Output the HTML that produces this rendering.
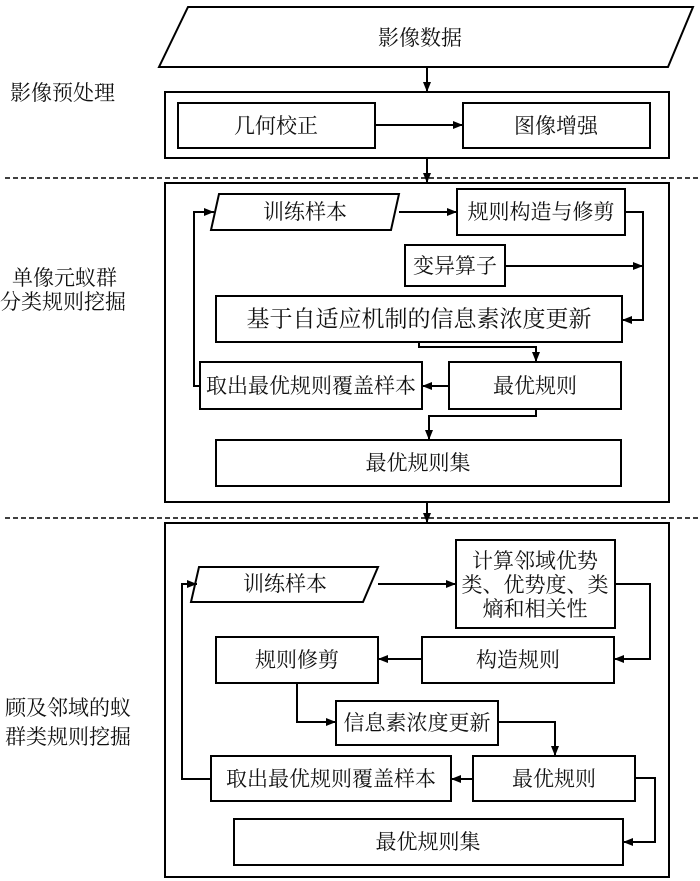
<!DOCTYPE html>
<html><head><meta charset="utf-8"><style>
html,body{margin:0;padding:0;background:#fff}
svg{display:block}
text{font-family:"Liberation Serif","Noto Serif CJK SC","Noto Sans CJK SC",serif;fill:#111;font-size:21px}
</style></head><body>
<svg width="700" height="881" viewBox="0 0 700 881" xmlns="http://www.w3.org/2000/svg">
<defs>
<marker id="a" markerWidth="10" markerHeight="8" refX="10" refY="4" orient="auto" markerUnits="userSpaceOnUse">
<path d="M0,0 L10,4 L0,8 Z" fill="#000"/></marker>
</defs>
<g fill="none" stroke="#000" stroke-width="2">
<polygon points="188,7 693,7 668,67 159,67"/>
<rect x="165" y="92" width="504" height="66"/>
<rect x="178" y="103" width="197" height="45"/>
<rect x="463" y="103" width="187" height="45"/>
<line x1="427" y1="67" x2="427" y2="92" marker-end="url(#a)"/>
<line x1="375" y1="125" x2="463" y2="125" marker-end="url(#a)"/>
<line x1="427" y1="158" x2="427" y2="183" marker-end="url(#a)"/>
<rect x="165" y="183" width="504" height="319"/>
<polygon points="219,194 399,194 391,230 211,230"/>
<rect x="457" y="189" width="168" height="46"/>
<rect x="405" y="245" width="100" height="41"/>
<rect x="216" y="296" width="406" height="46"/>
<rect x="200" y="362" width="222" height="47"/>
<rect x="449" y="362" width="172" height="47"/>
<rect x="216" y="440" width="405" height="46"/>
<line x1="399" y1="212" x2="457" y2="212" marker-end="url(#a)"/>
<polyline points="625,212 643,212 643,320 622,320" marker-end="url(#a)"/>
<line x1="505" y1="266" x2="643" y2="266" marker-end="url(#a)"/>
<polyline points="419,342 419,347 536,347 536,362" marker-end="url(#a)"/>
<line x1="449" y1="386" x2="422" y2="386" marker-end="url(#a)"/>
<polyline points="200,386 194,386 194,212 214,212" marker-end="url(#a)"/>
<polyline points="536,409 536,416 429,416 429,440" marker-end="url(#a)"/>
<line x1="427" y1="502" x2="427" y2="523" marker-end="url(#a)"/>
<rect x="165" y="523" width="504" height="354"/>
<polygon points="199,567 378,567 363,602 191,602"/>
<rect x="456" y="540" width="159" height="88"/>
<rect x="422" y="637" width="192" height="46"/>
<rect x="216" y="637" width="162" height="46"/>
<rect x="336" y="701" width="162" height="44"/>
<rect x="211" y="756" width="240" height="45"/>
<rect x="473" y="756" width="162" height="45"/>
<rect x="234" y="819" width="389" height="46"/>
<line x1="378" y1="584" x2="456" y2="584" marker-end="url(#a)"/>
<polyline points="615,584 650,584 650,659 614,659" marker-end="url(#a)"/>
<line x1="422" y1="659" x2="378" y2="659" marker-end="url(#a)"/>
<polyline points="297,683 297,722 336,722" marker-end="url(#a)"/>
<polyline points="498,722 555,722 555,756" marker-end="url(#a)"/>
<line x1="473" y1="779" x2="451" y2="779" marker-end="url(#a)"/>
<polyline points="211,779 182,779 182,584 197,584" marker-end="url(#a)"/>
<polyline points="635,778 655,778 655,842 623,842" marker-end="url(#a)"/>
</g>
<g stroke="#000" stroke-width="1.5" stroke-dasharray="5,3">
<line x1="5" y1="178" x2="700" y2="178"/>
<line x1="5" y1="518" x2="700" y2="518"/>
</g>
<g text-anchor="middle" dominant-baseline="central">
<text x="420" y="38">影像数据</text>
<text x="276" y="126">几何校正</text>
<text x="556" y="126">图像增强</text>
<text x="305" y="212">训练样本</text>
<text x="541" y="212">规则构造与修剪</text>
<text x="455" y="266">变异算子</text>
<text x="419" y="319" style="font-size:23px">基于自适应机制的信息素浓度更新</text>
<text x="311" y="386">取出最优规则覆盖样本</text>
<text x="535" y="386">最优规则</text>
<text x="418" y="463">最优规则集</text>
<text x="285" y="584">训练样本</text>
<text x="535" y="561">计算邻域优势</text>
<text x="535" y="585">类、优势度、类</text>
<text x="535" y="609">熵和相关性</text>
<text x="518" y="660">构造规则</text>
<text x="297" y="660">规则修剪</text>
<text x="417" y="723">信息素浓度更新</text>
<text x="331" y="779">取出最优规则覆盖样本</text>
<text x="554" y="779">最优规则</text>
<text x="428" y="842">最优规则集</text>
</g>
<g dominant-baseline="central" style="font-size:23px">
<text x="10" y="93">影像预处理</text>
<text x="12" y="278">单像元蚁群</text>
<text x="0" y="302">分类规则挖掘</text>
<text x="5" y="708">顾及邻域的蚁</text>
<text x="5" y="737">群类规则挖掘</text>
</g>
</svg>
</body></html>
